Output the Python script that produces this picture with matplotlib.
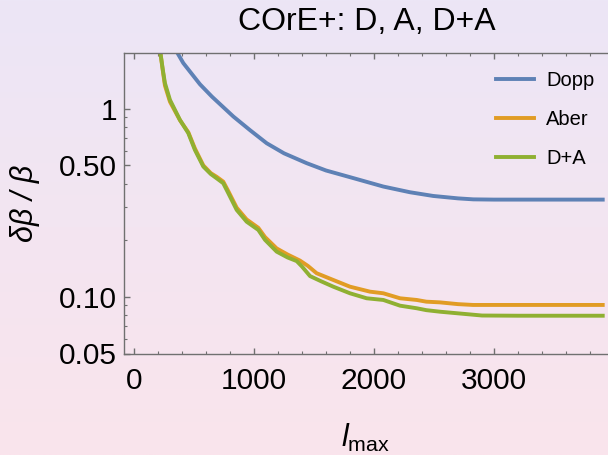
import numpy as np
import matplotlib
matplotlib.use("Agg")
import matplotlib.pyplot as plt
from matplotlib.ticker import FixedLocator, FixedFormatter, LogLocator, NullFormatter, MultipleLocator

plt.rcParams['font.family'] = ['Liberation Sans', 'DejaVu Sans']
plt.rcParams['mathtext.fontset'] = 'custom'
plt.rcParams['mathtext.rm'] = 'Liberation Sans'
plt.rcParams['mathtext.it'] = 'Liberation Sans:italic'

# data
l_dopp = [330, 411, 550, 650, 828, 967, 1106, 1250, 1439, 1600, 1800, 2078,
          2300, 2494, 2700, 2828, 3000, 3906]
v_dopp = [2.15, 1.75, 1.35, 1.16, 0.91, 0.77, 0.656, 0.58, 0.514, 0.47, 0.433,
          0.386, 0.360, 0.344, 0.334, 0.330, 0.329, 0.329]

l_aber = [215, 240, 258, 300, 383, 453, 508, 578, 640, 689, 744, 786, 856, 939,
          1036, 1092, 1189, 1280, 1383, 1450, 1522, 1661, 1800, 1967, 2078,
          2217, 2356, 2436, 2550, 2700, 2825, 3200, 3906]
v_aber = [2.1, 1.6, 1.33, 1.09, 0.87, 0.75, 0.615, 0.50, 0.455, 0.435, 0.41,
          0.365, 0.298, 0.258, 0.233, 0.208, 0.181, 0.168, 0.156, 0.146, 0.1336,
          0.123, 0.1133, 0.1066, 0.1045, 0.0983, 0.0963, 0.0943, 0.0935, 0.0915,
          0.0906, 0.0906, 0.0906]

l_da = [215, 240, 258, 300, 383, 453, 508, 578, 640, 689, 744, 786, 856, 939,
        1036, 1092, 1189, 1280, 1356, 1400, 1467, 1560, 1661, 1800, 1939, 2078,
        2217, 2356, 2436, 2550, 2760, 2900, 3200, 3906]
v_da = [2.1, 1.62, 1.37, 1.115, 0.873, 0.742, 0.604, 0.493, 0.45, 0.427,
        0.402, 0.356, 0.290, 0.251, 0.227, 0.201, 0.174, 0.162, 0.155, 0.145,
        0.129, 0.121, 0.1133, 0.1045, 0.0983, 0.0963, 0.0898, 0.087, 0.085,
        0.0834, 0.0811, 0.0796, 0.0794, 0.0794]

ytick_vals = [0.05, 0.10, 0.50, 1]
ytick_labels = ["0.05", "0.10", "0.50", "1"]
xtick_vals = [0, 1000, 2000, 3000]

fig = plt.figure(figsize=(6.08, 4.55), dpi=100)

# background gradient lavender -> pink
bg = fig.add_axes([0, 0, 1, 1], zorder=-10)
top = np.array([236, 230, 246]) / 255
bot = np.array([250, 228, 236]) / 255
t = np.linspace(0, 1, 256)[:, None, None]
grad = top * (1 - t) + bot * t
bg.imshow(np.repeat(grad, 2, axis=1), aspect='auto', extent=[0, 1, 0, 1])
bg.axis('off')

ax = fig.add_axes([124 / 608, 101.5 / 455, 490 / 608, 300.5 / 455])
ax.set_facecolor('none')

ax.plot(l_dopp, v_dopp, color='#5E81B5', lw=2.8, label='Dopp')
ax.plot(l_aber, v_aber, color='#E19C24', lw=2.8, label='Aber')
ax.plot(l_da, v_da, color='#8FB032', lw=2.8, label='D+A')

ax.set_yscale('log')
ax.set_xlim(-83, 4000)
ax.set_ylim(0.05, 1.98)

ax.yaxis.set_major_locator(FixedLocator(ytick_vals))
ax.yaxis.set_major_formatter(FixedFormatter(ytick_labels))
ax.yaxis.set_minor_locator(LogLocator(base=10, subs=np.arange(2, 10)))
ax.yaxis.set_minor_formatter(NullFormatter())
ax.xaxis.set_major_locator(FixedLocator(xtick_vals))
ax.xaxis.set_minor_locator(MultipleLocator(200))

gray = '#707070'
for s in ax.spines.values():
    s.set_color(gray)
    s.set_linewidth(1.0)
ax.tick_params(which='both', direction='in', top=True, right=True, colors=gray,
               labelcolor='black', labelsize=21.5)
ax.tick_params(which='major', length=4, width=1)
ax.tick_params(which='minor', length=2.3, width=0.8)
ax.tick_params(axis='x', pad=10)
ax.tick_params(axis='y', pad=5)

fig.text(367 / 608, 1 - 22 / 455, "COrE+: D, A, D+A", ha='center', va='center',
         fontsize=23)
fig.text(25 / 608, 1 - 203 / 455, "δβ / β", rotation=90, ha='center',
         va='center', fontsize=22, fontstyle='italic')
fig.text(365 / 608, 1 - 438 / 455, r"$\mathit{l}_{\mathrm{max}}$", ha='center',
         va='center', fontsize=22)

ax.legend(loc='upper left', bbox_to_anchor=(496 / 608, 1 - 71 / 455),
          bbox_transform=fig.transFigure, frameon=False, fontsize=14.5,
          handlelength=1.9, handletextpad=0.6, labelspacing=1.0,
          borderpad=0, borderaxespad=0)

fig.savefig('out.png', dpi=100)
